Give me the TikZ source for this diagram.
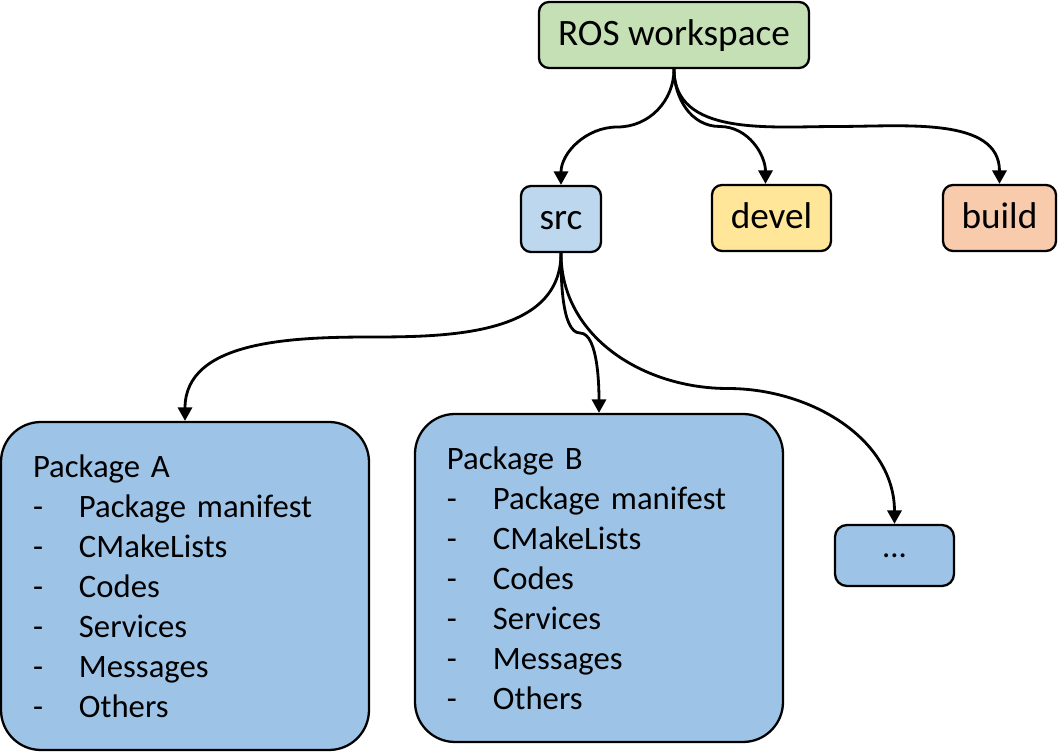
\documentclass[tikz,border=0pt]{standalone}
\usepackage{fontspec}
\setmainfont{Carlito}
\usetikzlibrary{arrows.meta, calc}
\definecolor{wsgreen}{HTML}{C5E0B4}
\definecolor{srcblue}{HTML}{BDD7EE}
\definecolor{develyellow}{HTML}{FFE699}
\definecolor{buildorange}{HTML}{F8CBAD}
\definecolor{pkgblue}{HTML}{9DC3E6}
\begin{document}
\begin{tikzpicture}[>={Triangle[length=3.8pt,width=4pt]},
    dirbox/.style={draw,line width=0.65pt,rounded corners=0.1cm,minimum height=0.66cm,
        inner sep=0pt,text height=7.5pt,text depth=1.3pt,font=\fontsize{10.6}{12}\selectfont},
    pkgbox/.style={draw,line width=0.65pt,fill=pkgblue,rounded corners=0.4cm,
        minimum width=3.68cm,minimum height=3.28cm,inner xsep=0.32cm,inner ysep=0pt,
        text width=3.04cm,align=left,font=\fontsize{9.3}{11.38}\selectfont},
    link/.style={->,line width=0.8pt}]
    \useasboundingbox (0,0) rectangle (10.61,7.53);
    % Cartelle
    \node[dirbox,fill=wsgreen,minimum width=2.70cm] (ros) at (6.74,7.18) {ROS workspace};
    \node[dirbox,fill=srcblue,minimum width=0.80cm] (src) at (5.61,5.34) {src};
    \node[dirbox,fill=develyellow,minimum width=1.19cm] (devel) at (7.715,5.35) {devel};
    \node[dirbox,fill=buildorange,minimum width=1.13cm] (build) at (9.995,5.35) {build};
    % Pacchetti
    \node[pkgbox] (pkga) at (1.85,1.67) {Package A\\
        \makebox[0.46cm][l]{-}Package manifest\\
        \makebox[0.46cm][l]{-}CMakeLists\\
        \makebox[0.46cm][l]{-}Codes\\
        \makebox[0.46cm][l]{-}Services\\
        \makebox[0.46cm][l]{-}Messages\\
        \makebox[0.46cm][l]{-}Others};
    \node[pkgbox] (pkgb) at (5.99,1.75) {Package B\\
        \makebox[0.46cm][l]{-}Package manifest\\
        \makebox[0.46cm][l]{-}CMakeLists\\
        \makebox[0.46cm][l]{-}Codes\\
        \makebox[0.46cm][l]{-}Services\\
        \makebox[0.46cm][l]{-}Messages\\
        \makebox[0.46cm][l]{-}Others};
    \node[dirbox,fill=pkgblue,minimum width=1.19cm,minimum height=0.61cm,rounded corners=0.12cm,
        text height=1.4pt,text depth=0pt,font=\fontsize{9.3}{11}\selectfont] (more) at (8.945,1.975) {...};
    % Collegamenti dal workspace
    \draw[link] (ros.south) to[out=-90,in=0] ($(ros.south)!0.5!(src.north)$)
        to[out=180,in=90] (src.north);
    \draw[link] (ros.south) to[out=-90,in=180] ($(ros.south)!0.5!([xshift=-0.06cm]devel.north)$)
        to[out=0,in=90] ([xshift=-0.06cm]devel.north);
    \draw[link] (ros.south) to[out=-90,in=180] ($(ros.south)!0.5!(build.north)$)
        to[out=0,in=90] (build.north);
    % Collegamenti da src
    \draw[link] (src.south) to[out=-90,in=0] ($(src.south)!0.5!(pkga.north)$)
        to[out=180,in=90] (pkga.north);
    \draw[link] (src.south) to[out=-90,in=180,looseness=0.6] ($(src.south)!0.5!(pkgb.north)$)
        to[out=0,in=90,looseness=0.6] (pkgb.north);
    \draw[link] (src.south) to[out=-90,in=180] ($(src.south)!0.5!(more.north)$)
        to[out=0,in=90] (more.north);
\end{tikzpicture}
\end{document}
